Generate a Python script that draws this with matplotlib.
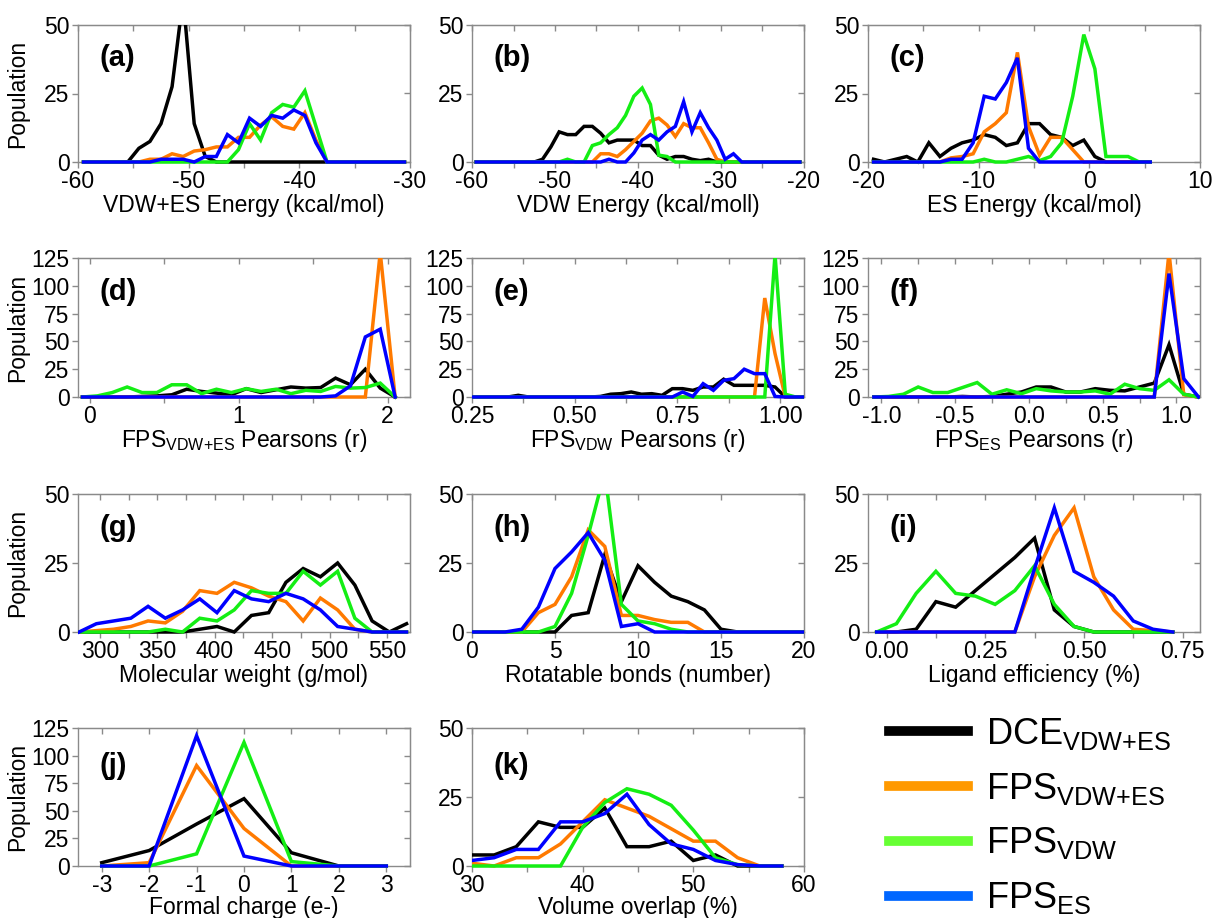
import matplotlib
matplotlib.use('Agg')
import matplotlib.pyplot as plt
from matplotlib.lines import Line2D
from matplotlib.patches import Rectangle

plt.rcParams['font.family'] = ['Liberation Sans', 'DejaVu Sans']
plt.rcParams['mathtext.fontset'] = 'custom'
plt.rcParams['mathtext.rm'] = 'Liberation Sans'
plt.rcParams['mathtext.it'] = 'Liberation Sans:italic'
plt.rcParams['mathtext.bf'] = 'Liberation Sans:bold'
plt.rcParams['axes.unicode_minus'] = False

# series order: DCE_VDW+ES, FPS_VDW+ES, FPS_VDW, FPS_ES
colors = ['#000000', '#ff7a00', '#14ee14', '#0000ff']
legend_colors = ['#000000', '#ff9900', '#66ff33', '#0066ff']
legend_labels = [r'DCE$_{\mathregular{VDW{+}ES}}$', r'FPS$_{\mathregular{VDW{+}ES}}$',
                 r'FPS$_{\mathregular{VDW}}$', r'FPS$_{\mathregular{ES}}$']

# (a) VDW+ES energy
a_x = [-59.5, -58.5, -57.5, -56.5, -55.5, -54.5, -53.5, -52.5, -51.5, -50.5,
       -49.5, -48.5, -47.5, -46.5, -45.5, -44.5, -43.5, -42.5, -41.5, -40.5,
       -39.5, -38.5, -37.5, -36.5, -35.5, -34.5, -33.5, -32.5, -31.5, -30.5]
a_dce = [0, 0, 0, 0, 0, 5, 7.5, 14, 27.5, 60, 14, 2, 0, 0, 0,
         0, 0, 0, 0, 0, 0, 0, 0, 0, 0, 0, 0, 0, 0, 0]
a_fvdwes = [0, 0, 0, 0, 0, 0, 1, 1, 3, 2, 4, 4.5, 5.5, 5.5, 9,
            9, 13.5, 16.5, 13, 12, 18, 8, 0, 0, 0, 0, 0, 0, 0, 0]
a_fvdw = [0, 0, 0, 0, 0, 0, 0, 0, 0, 0, 0, 0, 0, 0, 4.5,
          14, 8, 18, 21, 20, 26, 13, 0, 0, 0, 0, 0, 0, 0, 0]
a_fes = [0, 0, 0, 0, 0, 0, 0, 1, 1, 1, 0, 2, 2, 10, 7,
         16, 13, 17, 16, 19, 17, 7, 0, 0, 0, 0, 0, 0, 0, 0]

# (b) VDW energy
b_x = [-59.5, -58.5, -57.5, -56.5, -55.5, -54.5, -53.5, -52.5, -51.5, -50.5,
       -49.5, -48.5, -47.5, -46.5, -45.5, -44.5, -43.5, -42.5, -41.5, -40.5,
       -39.5, -38.5, -37.5, -36.5, -35.5, -34.5, -33.5, -32.5, -31.5, -30.5,
       -29.5, -28.5, -27.5, -26.5, -25.5, -24.5, -23.5, -22.5, -21.5, -20.5]
b_dce = [0, 0, 0, 0, 0, 0, 0, 0, 1, 5.5, 11, 10, 10, 13, 13, 10.5, 7, 8, 8, 8,
         6, 6, 2.5, 1, 2, 2, 1, 0.5, 1, 0, 0, 0, 0, 0, 0, 0, 0, 0, 0, 0]
b_fvdwes = [0, 0, 0, 0, 0, 0, 0, 0, 0, 0, 0, 0, 0, 0, 0, 3, 3, 2, 4.5, 7.5,
            10.5, 15, 16, 13.5, 9.3, 14, 12.5, 12.5, 7, 1, 0, 0, 0, 0, 0, 0, 0, 0, 0, 0]
b_fvdw = [0, 0, 0, 0, 0, 0, 0, 0, 0, 0, 0, 1, 0, 0, 6, 7, 10, 12.5, 17, 24,
          27, 21, 2.5, 2, 0, 0, 0, 0, 0, 0, 0, 0, 0, 0, 0, 0, 0, 0, 0, 0]
b_fes = [0, 0, 0, 0, 0, 0, 0, 0, 0, 0, 0, 0, 0, 0, 0, 0, 1, 0, 0, 3.3,
         8, 10, 8, 11, 13, 22, 11, 18, 12.5, 8, 1, 3, 0, 0, 0, 0, 0, 0, 0, 0]

# (c) ES energy
c_x = [-19.5, -18.5, -17.5, -16.5, -15.5, -14.5, -13.5, -12.5, -11.5, -10.5,
       -9.5, -8.5, -7.5, -6.5, -5.5, -4.5, -3.5, -2.5, -1.5, -0.5,
       0.5, 1.5, 2.5, 3.5, 4.5, 5.5]
c_dce = [1, 0, 1, 2, 0, 7, 2, 5, 7, 8, 10, 9, 6, 7, 14, 14, 10, 9, 6, 8,
         2, 0, 0, 0, 0, 0]
c_fvdwes = [0, 0, 0, 0, 0, 0, 0, 1.5, 2, 3, 11, 14, 18, 40, 13, 2.5, 9, 9, 4.5, 0,
            0, 0, 0, 0, 0, 0]
c_fvdw = [0, 0, 0, 0, 0, 0, 0, 0, 0, 0, 1, 0, 0, 1, 2, 0.5, 2, 7, 24, 46.5,
          34, 2, 2, 2, 0, 0]
c_fes = [0, 0, 0, 0, 0, 0, 0, 1, 1, 7, 24, 23, 29, 38, 5, 0, 0, 0, 0, 0,
         0, 0, 0, 0, 0, 0]

# (d) FPS VDW+ES Pearsons
d_x = [-0.05, 0.05, 0.15, 0.25, 0.35, 0.45, 0.55, 0.65, 0.75, 0.85, 0.95,
       1.05, 1.15, 1.25, 1.35, 1.45, 1.55, 1.65, 1.75, 1.85, 1.95, 2.05]
d_dce = [0, 0, 0, 0, 0.5, 1, 2, 7, 5, 3.5, 2, 7.5, 4, 6.5, 9, 8, 8.5, 17, 11, 25, 8, 0]
d_fvdwes = [0, 0, 0, 0, 0, 0, 0, 0, 0, 0, 0, 0, 0, 0, 0, 0, 0, 0, 0, 0, 130, 0]
d_fvdw = [0, 1, 4, 9, 4, 4, 11, 11, 3, 7, 4, 7.5, 5, 7, 3, 6, 5, 9.5, 8, 8.5, 12.5, 0]
d_fes = [0, 0, 0, 0, 0, 0, 0, 0, 0, 0, 0, 0, 0, 0, 0, 0, 0, 1, 10, 54, 61, 0]

# (e) FPS VDW Pearsons
e_x = [0.2375, 0.2625, 0.2875, 0.3125, 0.3375, 0.3625, 0.3875, 0.4125, 0.4375,
       0.4625, 0.4875, 0.5125, 0.5375, 0.5625, 0.5875, 0.6125, 0.6375, 0.6625,
       0.6875, 0.7125, 0.7375, 0.7625, 0.7875, 0.8125, 0.8375, 0.8625, 0.8875,
       0.9125, 0.9375, 0.9625, 0.9875, 1.0125, 1.0375, 1.0625]
e_dce = [0, 0, 0, 0, 0, 1.5, 0, 0, 0, 0, 0, 0, 0, 0.5, 2.5, 3, 4.5, 2.5, 3, 1.5,
         7.5, 7.5, 6, 9, 9, 16, 10.5, 10.5, 10.5, 10.5, 9, 0, 0, 0]
e_fvdwes = [0, 0, 0, 0, 0, 0, 0, 0, 0, 0, 0, 0, 0, 0, 0, 0, 0, 0, 0, 0,
            0, 0, 0, 0, 0, 0, 0, 0, 0, 89, 39, 0, 0, 0]
e_fvdw = [0, 0, 0, 0, 0, 0, 0, 0, 0, 0, 0, 0, 0, 0, 0, 0, 0, 0, 0, 0,
          0, 0, 0, 0, 0, 0, 0, 0, 0, 0, 128, 2.5, 0, 0]
e_fes = [0, 0, 0, 0, 0, 0, 0, 0, 0, 0, 0, 0, 0, 0, 0, 0, 0, 0, 0, 0,
         0, 4.5, 0.5, 12, 6, 15, 16.5, 25, 21, 21, 0.5, 0, 0, 0]

# (f) FPS ES Pearsons
f_x = [-1.05, -0.95, -0.85, -0.75, -0.65, -0.55, -0.45, -0.35, -0.25, -0.15, -0.05,
       0.05, 0.15, 0.25, 0.35, 0.45, 0.55, 0.65, 0.75, 0.85, 0.95, 1.05, 1.15]
f_dce = [0, 0, 0, 0, 0, 0, 0.5, 0, 0.5, 2.5, 4.5, 9, 9, 4.5, 4.5, 7.5, 6, 5.5, 9, 12.5,
         47, 2.5, 0]
f_fvdwes = [0, 0, 0, 0, 0, 0, 0, 0, 0, 0, 0, 0, 0, 0, 0, 0, 0, 0, 0, 0, 130, 2, 0]
f_fvdw = [0, 0.5, 2.5, 9, 4, 4, 8.5, 13, 2.5, 6.5, 3, 7.5, 5.5, 4.5, 4.5, 5.5, 2.5,
          11.5, 7.5, 6, 15.5, 2.5, 0]
f_fes = [0, 0, 0, 0, 0, 0, 0, 0, 0, 0, 0, 0, 0, 0, 0, 0, 0, 0, 0, 0, 111, 16.5, 0]

# (g) molecular weight
g_x = [282, 297, 312, 327, 342, 357, 372, 387, 402, 417,
       432, 447, 462, 477, 492, 507, 522, 537, 552, 567]
g_dce = [0, 0, 0, 0, 0, 0, 0, 1, 2, 0, 6, 7, 18, 23, 20, 25, 17, 4, 0, 3]
g_fvdwes = [0, 0.5, 1, 2, 4, 3.3, 7.5, 15, 14, 18, 16, 13, 11, 4, 12.3, 8, 1, 0, 0, 0]
g_fvdw = [0, 0, 0, 0, 0, 1, 0, 5, 4, 8, 15, 14, 14, 22, 17, 22, 5, 0, 0, 0]
g_fes = [0, 3, 4, 5, 9.3, 5, 8, 12, 7, 15, 12, 11, 14, 12, 8, 2, 1, 0, 0, 0]

# (h) rotatable bonds
h_x = [0, 1, 2, 3, 4, 5, 6, 7, 8, 9, 10, 11, 12, 13, 14, 15, 16, 17, 18, 19, 20]
h_dce = [0, 0, 0, 0, 0, 0, 6, 7, 28, 11, 24, 18, 13, 11, 8, 1, 0, 0, 0, 0, 0]
h_fvdwes = [0, 0, 0, 0, 7, 10, 20, 37, 31, 6, 6, 4.5, 3.5, 3.5, 0, 0, 0, 0, 0, 0, 0]
h_fvdw = [0, 0, 0, 0, 0, 2, 14, 35, 58, 10, 4, 3, 1, 0, 0, 0, 0, 0, 0, 0, 0]
h_fes = [0, 0, 0, 1, 9, 23, 29, 36, 26, 2, 3, 0, 0, 0, 0, 0, 0, 0, 0, 0, 0]

# (i) ligand efficiency
i_x = [-0.025, 0.025, 0.075, 0.125, 0.175, 0.225, 0.275, 0.325,
       0.375, 0.425, 0.475, 0.525, 0.575, 0.625, 0.675, 0.725]
i_dce = [0, 0, 1, 11, 9, 15, 21, 27, 34, 8, 2, 0, 0, 0, 0, 0]
i_fvdwes = [0, 0, 0, 0, 0, 0, 0, 0, 20, 35, 45, 20, 8, 1, 0.5, 0]
i_fvdw = [0, 3, 14, 22, 14, 13, 10, 15, 24, 10, 2, 0, 0, 0, 0, 0]
i_fes = [0, 0, 0, 0, 0, 0, 0, 0, 23, 45, 22, 18, 13, 4, 1, 0]

# (j) formal charge
j_x = [-3, -2, -1, 0, 1, 2, 3]
j_dce = [3, 14, 38, 61, 12, 0, 0]
j_fvdwes = [0, 3, 91, 34, 0, 0, 0]
j_fvdw = [0, 0, 11, 112, 4, 0, 0]
j_fes = [0, 0, 118, 9, 0, 0, 0]

# (k) volume overlap
k_x = [30, 32, 34, 36, 38, 40, 42, 44, 46, 48, 50, 52, 54, 56, 58]
k_dce = [4, 4, 7, 16, 14, 14, 21, 7, 7, 9, 2, 4, 0, 0, 0]
k_fvdwes = [1, 0, 3, 3, 8, 16, 24, 21, 18, 13.5, 9, 9, 3, 0, 0]
k_fvdw = [0, 0, 0, 0, 0, 14, 23, 28, 26, 22, 13, 3, 0.5, 0, 0]
k_fes = [2, 3, 6, 6, 16, 16, 19, 26, 15, 8, 6, 2, 0.5, 0, 0]

panels = [
    ('(a)', a_x, [a_dce, a_fvdwes, a_fvdw, a_fes], (-60, -30), 50,
     [-60, -50, -40, -30], [-55, -45, -35], 'VDW+ES Energy (kcal/mol)'),
    ('(b)', b_x, [b_dce, b_fvdwes, b_fvdw, b_fes], (-60, -20), 50,
     [-60, -50, -40, -30, -20], [-55, -45, -35, -25], 'VDW Energy (kcal/moll)'),
    ('(c)', c_x, [c_dce, c_fvdwes, c_fvdw, c_fes], (-20, 10), 50,
     [-20, -10, 0, 10], [-15, -5, 5], 'ES Energy (kcal/mol)'),
    ('(d)', d_x, [d_dce, d_fvdwes, d_fvdw, d_fes], (-0.08, 2.15), 125,
     [0, 1, 2], [0.5, 1.5], r'FPS$_{\mathregular{VDW{+}ES}}$ Pearsons (r)'),
    ('(e)', e_x, [e_dce, e_fvdwes, e_fvdw, e_fes], (0.25, 1.058), 125,
     [0.25, 0.5, 0.75, 1.0], [0.375, 0.625, 0.875], r'FPS$_{\mathregular{VDW}}$ Pearsons (r)'),
    ('(f)', f_x, [f_dce, f_fvdwes, f_fvdw, f_fes], (-1.09, 1.16), 125,
     [-1.0, -0.5, 0.0, 0.5, 1.0], [-0.75, -0.25, 0.25, 0.75], r'FPS$_{\mathregular{ES}}$ Pearsons (r)'),
    ('(g)', g_x, [g_dce, g_fvdwes, g_fvdw, g_fes], (281, 570), 50,
     [300, 350, 400, 450, 500, 550], [325, 375, 425, 475, 525], 'Molecular weight (g/mol)'),
    ('(h)', h_x, [h_dce, h_fvdwes, h_fvdw, h_fes], (0, 20), 50,
     [0, 5, 10, 15, 20], [], 'Rotatable bonds (number)'),
    ('(i)', i_x, [i_dce, i_fvdwes, i_fvdw, i_fes], (-0.047, 0.794), 50,
     [0.0, 0.25, 0.5, 0.75], [0.125, 0.375, 0.625], 'Ligand efficiency (%)'),
    ('(j)', j_x, [j_dce, j_fvdwes, j_fvdw, j_fes], (-3.5, 3.5), 125,
     [-3, -2, -1, 0, 1, 2, 3], [], 'Formal charge (e-)'),
    ('(k)', k_x, [k_dce, k_fvdwes, k_fvdw, k_fes], (30, 60), 50,
     [30, 40, 50, 60], [35, 45, 55], 'Volume overlap (%)'),
]

W, H = 1213, 918
col_left = [78, 472, 868]
row_top = [25, 258, 494, 728]
row_h = [137, 139, 138, 138]
ax_w = 332
xlabel_y = [-0.235, -0.215, -0.23, -0.215]
tag_y = [0.757, 0.755, 0.754, 0.728]
tick_fmt = {'(e)': ['0.25', '0.50', '0.75', '1.00'],
            '(f)': ['-1.0', '-0.5', '0.0', '0.5', '1.0'],
            '(i)': ['0.00', '0.25', '0.50', '0.75']}
gray = '#8a8a8a'

fig = plt.figure(figsize=(W / 100, H / 100), dpi=100)

for n, (tag, x, ys, xlim, ymax, xmaj, xmin, xlabel) in enumerate(panels):
    r, c = divmod(n, 3)
    ax = fig.add_axes([col_left[c] / W, 1 - (row_top[r] + row_h[r]) / H,
                       ax_w / W, row_h[r] / H])
    clip = Rectangle((0, -0.05), 1, 1.05, transform=ax.transAxes,
                     facecolor='none', edgecolor='none')
    ax.add_patch(clip)
    for y, col in zip(ys, colors):
        line, = ax.plot(x, y, color=col, lw=2.5, zorder=3, solid_joinstyle='miter')
        line.set_clip_path(clip)
    ax.set_xlim(*xlim)
    ax.set_ylim(0, ymax)
    yt = [0, 25, 50] if ymax == 50 else [0, 25, 50, 75, 100, 125]
    ax.set_xticks(xmaj)
    if tag in tick_fmt:
        ax.set_xticklabels(tick_fmt[tag])
    ax.set_xticks(xmin, minor=True)
    ax.set_yticks(yt)
    ax.tick_params(which='both', direction='out', length=4, width=1, color=gray,
                   labelsize=16.5, pad=2)
    for s in ax.spines.values():
        s.set_color(gray)
        s.set_linewidth(1)
    top = ax.secondary_xaxis('top')
    top.set_xticks(xmaj)
    top.set_xticks(xmin, minor=True)
    top.tick_params(which='both', direction='in', length=4, width=1, color=gray,
                    labeltop=False)
    top.spines['top'].set_color(gray)
    right = ax.secondary_yaxis('right')
    right.set_yticks(yt)
    right.tick_params(direction='in', length=4, width=1, color=gray, labelright=False)
    right.spines['right'].set_color(gray)

    ax.set_xlabel(xlabel, fontsize=16.5)
    ax.xaxis.set_label_coords(0.5, xlabel_y[r])
    if c == 0:
        ax.set_ylabel('Population', fontsize=16.5)
        ax.yaxis.set_label_coords(-0.148, 0.5)
    ax.text(0.066, tag_y[r], tag, transform=ax.transAxes, fontsize=21,
            fontweight='bold', va='center', ha='left')

handles = [Line2D([], [], color=c, lw=7) for c in legend_colors]
fig.legend(handles, legend_labels, loc='center left',
           bbox_to_anchor=(889 / W, 1 - 816 / H), fontsize=26, frameon=False,
           handlelength=2.2, handletextpad=0.5, labelspacing=0.52,
           borderpad=0, borderaxespad=0)

fig.savefig('out.png', dpi=100)
